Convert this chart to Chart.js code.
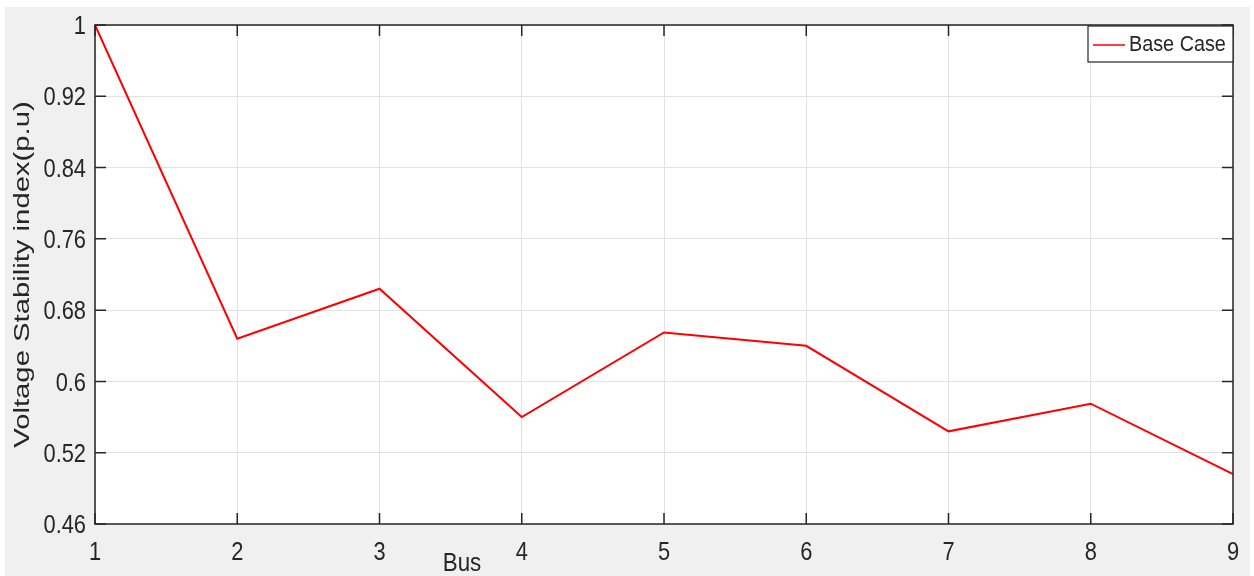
<!DOCTYPE html>
<html>
<head>
<meta charset="utf-8">
<script src="https://cdn.jsdelivr.net/npm/chart.js@4.4.1/dist/chart.umd.min.js"></script>
<style>
  body { margin: 0; background: #fff; }
  #wrap { width: 1254px; height: 576px; }
</style>
</head>
<body>
<div id="wrap"><canvas id="graph"></canvas></div>
<script>
var buses = [1, 2, 3, 4, 5, 6, 7, 8, 9];
var baseCase = [1.0, 0.648, 0.704, 0.560, 0.655, 0.640, 0.544, 0.575, 0.496];
var yTickValues = [0.44, 0.52, 0.60, 0.68, 0.76, 0.84, 0.92, 1.0];
var yTickLabels = ['0.46', '0.52', '0.6', '0.68', '0.76', '0.84', '0.92', '1'];
var xTitle = 'Bus';
var yTitle = 'Voltage Stability index(p.u)';

var axisColor = '#262626';
var font = 'Liberation Sans, Arial, sans-serif';

// text with a separate horizontal / vertical stretch (figure was exported squeezed)
function drawText(c, text, x, y, size, sx, sy, align, baseline) {
    c.save();
    c.translate(x, y);
    c.scale(sx, sy);
    c.font = size + 'px ' + font;
    c.textAlign = align;
    c.textBaseline = baseline;
    c.fillText(text, 0, 0);
    c.restore();
}

// figure background, axes box, inward ticks, labels and legend
var matlabLook = {
    id: 'matlabLook',
    beforeDraw: function(chart) {
        var c = chart.ctx, a = chart.chartArea;
        c.save();
        c.fillStyle = '#f0f0f0';
        c.fillRect(5, 7, 1245, 569);
        c.fillStyle = '#ffffff';
        c.fillRect(a.left, a.top, a.right - a.left, a.bottom - a.top);
        c.restore();
    },
    afterDraw: function(chart) {
        var c = chart.ctx, a = chart.chartArea;
        var xs = chart.scales.x, ys = chart.scales.y;
        c.save();
        c.strokeStyle = axisColor;
        c.lineWidth = 1.5;
        c.strokeRect(a.left, a.top, a.right - a.left, a.bottom - a.top);
        c.beginPath();
        xs.ticks.forEach(function(t) {
            var px = xs.getPixelForValue(t.value);
            c.moveTo(px, a.bottom); c.lineTo(px, a.bottom - 11);
            c.moveTo(px, a.top); c.lineTo(px, a.top + 11);
        });
        ys.ticks.forEach(function(t) {
            var py = ys.getPixelForValue(t.value);
            c.moveTo(a.left, py); c.lineTo(a.left + 11, py);
            c.moveTo(a.right, py); c.lineTo(a.right - 11, py);
        });
        c.stroke();

        // tick labels
        c.fillStyle = axisColor;
        xs.ticks.forEach(function(t) {
            drawText(c, String(t.value), xs.getPixelForValue(t.value), a.bottom + 29, 26, 0.84, 1, 'center', 'middle');
        });
        ys.ticks.forEach(function(t, i) {
            drawText(c, yTickLabels[i], a.left - 9, ys.getPixelForValue(t.value) + 2, 26, 0.84, 1, 'right', 'middle');
        });

        // axis titles
        drawText(c, xTitle, 462, 551, 26, 0.86, 1, 'center', 'top');
        c.save();
        c.translate(23, (a.top + a.bottom) / 2);
        c.rotate(-Math.PI / 2);
        drawText(c, yTitle, 0, 0, 22, 1.33, 1, 'center', 'middle');
        c.restore();

        // legend box
        var ds = chart.data.datasets[0];
        var lx = 1088, ly = 26, lw = 145, lh = 36;
        c.fillStyle = '#ffffff';
        c.fillRect(lx, ly, lw, lh);
        c.lineWidth = 1.2;
        c.strokeStyle = axisColor;
        c.strokeRect(lx, ly, lw, lh);
        c.strokeStyle = ds.borderColor;
        c.lineWidth = 1.5;
        c.beginPath();
        c.moveTo(lx + 5, ly + 19); c.lineTo(lx + 37, ly + 19);
        c.stroke();
        c.fillStyle = axisColor;
        drawText(c, ds.label, lx + 41, ly + 19, 22, 0.9, 1, 'left', 'middle');
        c.restore();
    }
};

var ctx = document.getElementById('graph').getContext('2d');
var lineChart = new Chart(ctx, {
    type: 'line',
    data: {
        datasets: [{
            label: 'Base Case',
            data: buses.map(function(b, i) { return { x: b, y: baseCase[i] }; }),
            borderColor: '#ff0000',
            borderWidth: 2,
            pointRadius: 0,
            tension: 0
        }]
    },
    options: {
        responsive: true,
        maintainAspectRatio: false,
        animation: false,
        layout: { padding: { top: 25, right: 21, left: 0, bottom: 0 } },
        plugins: { legend: { display: false }, tooltip: { enabled: false } },
        scales: {
            x: {
                type: 'linear',
                min: 1, max: 9,
                afterBuildTicks: function(scale) {
                    scale.ticks = buses.map(function(b) { return { value: b }; });
                },
                afterFit: function(scale) { scale.height = 52; },
                grid: { color: '#e2e2e2', lineWidth: 1, tickLength: 0, drawTicks: false },
                border: { display: false },
                ticks: { display: false }
            },
            y: {
                min: 0.44, max: 1.0,
                afterBuildTicks: function(scale) {
                    scale.ticks = yTickValues.map(function(v) { return { value: v }; });
                },
                afterFit: function(scale) { scale.width = 95; },
                grid: { color: '#e2e2e2', lineWidth: 1, tickLength: 0, drawTicks: false },
                border: { display: false },
                ticks: { display: false }
            }
        }
    },
    plugins: [matlabLook]
});
</script>
</body>
</html>
